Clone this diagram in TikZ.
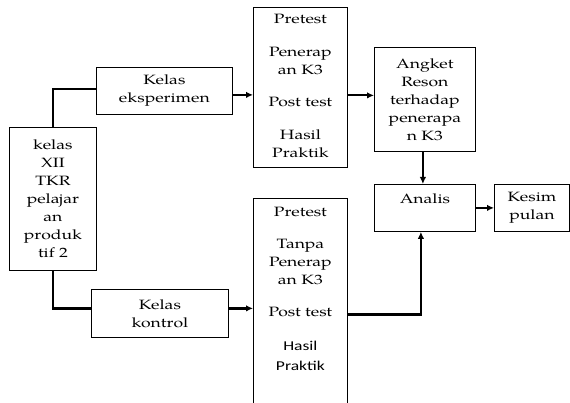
\documentclass[tikz,border=0pt]{standalone}
\usepackage{fontspec}
\setmainfont{TeX Gyre Pagella}[FakeStretch=1.3]
\newfontfamily\sanstext{Carlito}[FakeStretch=1.3]
\usetikzlibrary{arrows.meta, positioning, calc}

\begin{document}
\begin{tikzpicture}[
    x=1pt, y=-1pt,
    box/.style={rectangle, draw=black, line width=0.8pt, align=center, inner sep=0pt, font=\fontsize{13.5}{18}\selectfont},
    arrow/.style={-{Latex[length=7pt,width=6.5pt]}, line width=2.2pt},
    link/.style={line width=2.2pt}
]
\clip (0,0) rectangle (570,403);

\node[box, minimum width=87, minimum height=143, anchor=north west] (kelas) at (9,127) {kelas\\XII\\TKR\\pelajar\\an\\produk\\tif 2};
\node[box, minimum width=136, minimum height=47, anchor=north west] (eksp) at (96,67) {Kelas\\eksperimen};
\node[box, minimum width=137, minimum height=48, anchor=north west] (kontrol) at (91,289) {Kelas\\kontrol};

\node[box, minimum width=94, minimum height=160, anchor=north west] (tes1) at (253,7) {\mbox{}\\[-12pt]Pretest\\[15pt]Penerap\\an K3\\[14pt]Post test\\[15pt]Hasil\\Praktik};
\node[box, minimum width=94, inner ysep=9pt, text depth=51pt, anchor=north west] (tes2) at (253,198) {Pretest\\[14pt]Tanpa\\Penerap\\an K3\\[14pt]Post test\\[16pt]\sanstext Hasil\\[2pt]\sanstext Praktik};

\node[box, minimum width=101, minimum height=104, anchor=north west] (angket) at (374,47) {Angket\\Reson\\terhadap\\penerapa\\n K3};
\node[box, minimum width=101, minimum height=47, anchor=north west] (analis) at (374,184) {Analis\\\mbox{}};
\node[box, minimum width=75, minimum height=47, anchor=north west] (kesim) at (494,184) {Kesim\\pulan};

% Arrows
\draw[link] (kelas.north) |- ([yshift=2pt]eksp.west);
\draw[link] (kelas.south) |- ([yshift=5pt]kontrol.west);
\draw[arrow] ([yshift=-4pt]eksp.east) -- ([yshift=-4pt]eksp.east -| tes1.west);
\draw[arrow] ([yshift=5pt]kontrol.east) -- ([yshift=5pt]kontrol.east -| tes2.west);
\draw[arrow] ([yshift=4pt]angket.west -| tes1.east) -- ([yshift=4pt]angket.west);
\draw[arrow] ([xshift=-2pt]angket.south) -- ([xshift=-2pt]analis.north);
\draw[arrow] (analis.east) -- (kesim.west);
\draw[arrow] (tes2.east) -| ([xshift=-4pt]analis.south);

\end{tikzpicture}
\end{document}
